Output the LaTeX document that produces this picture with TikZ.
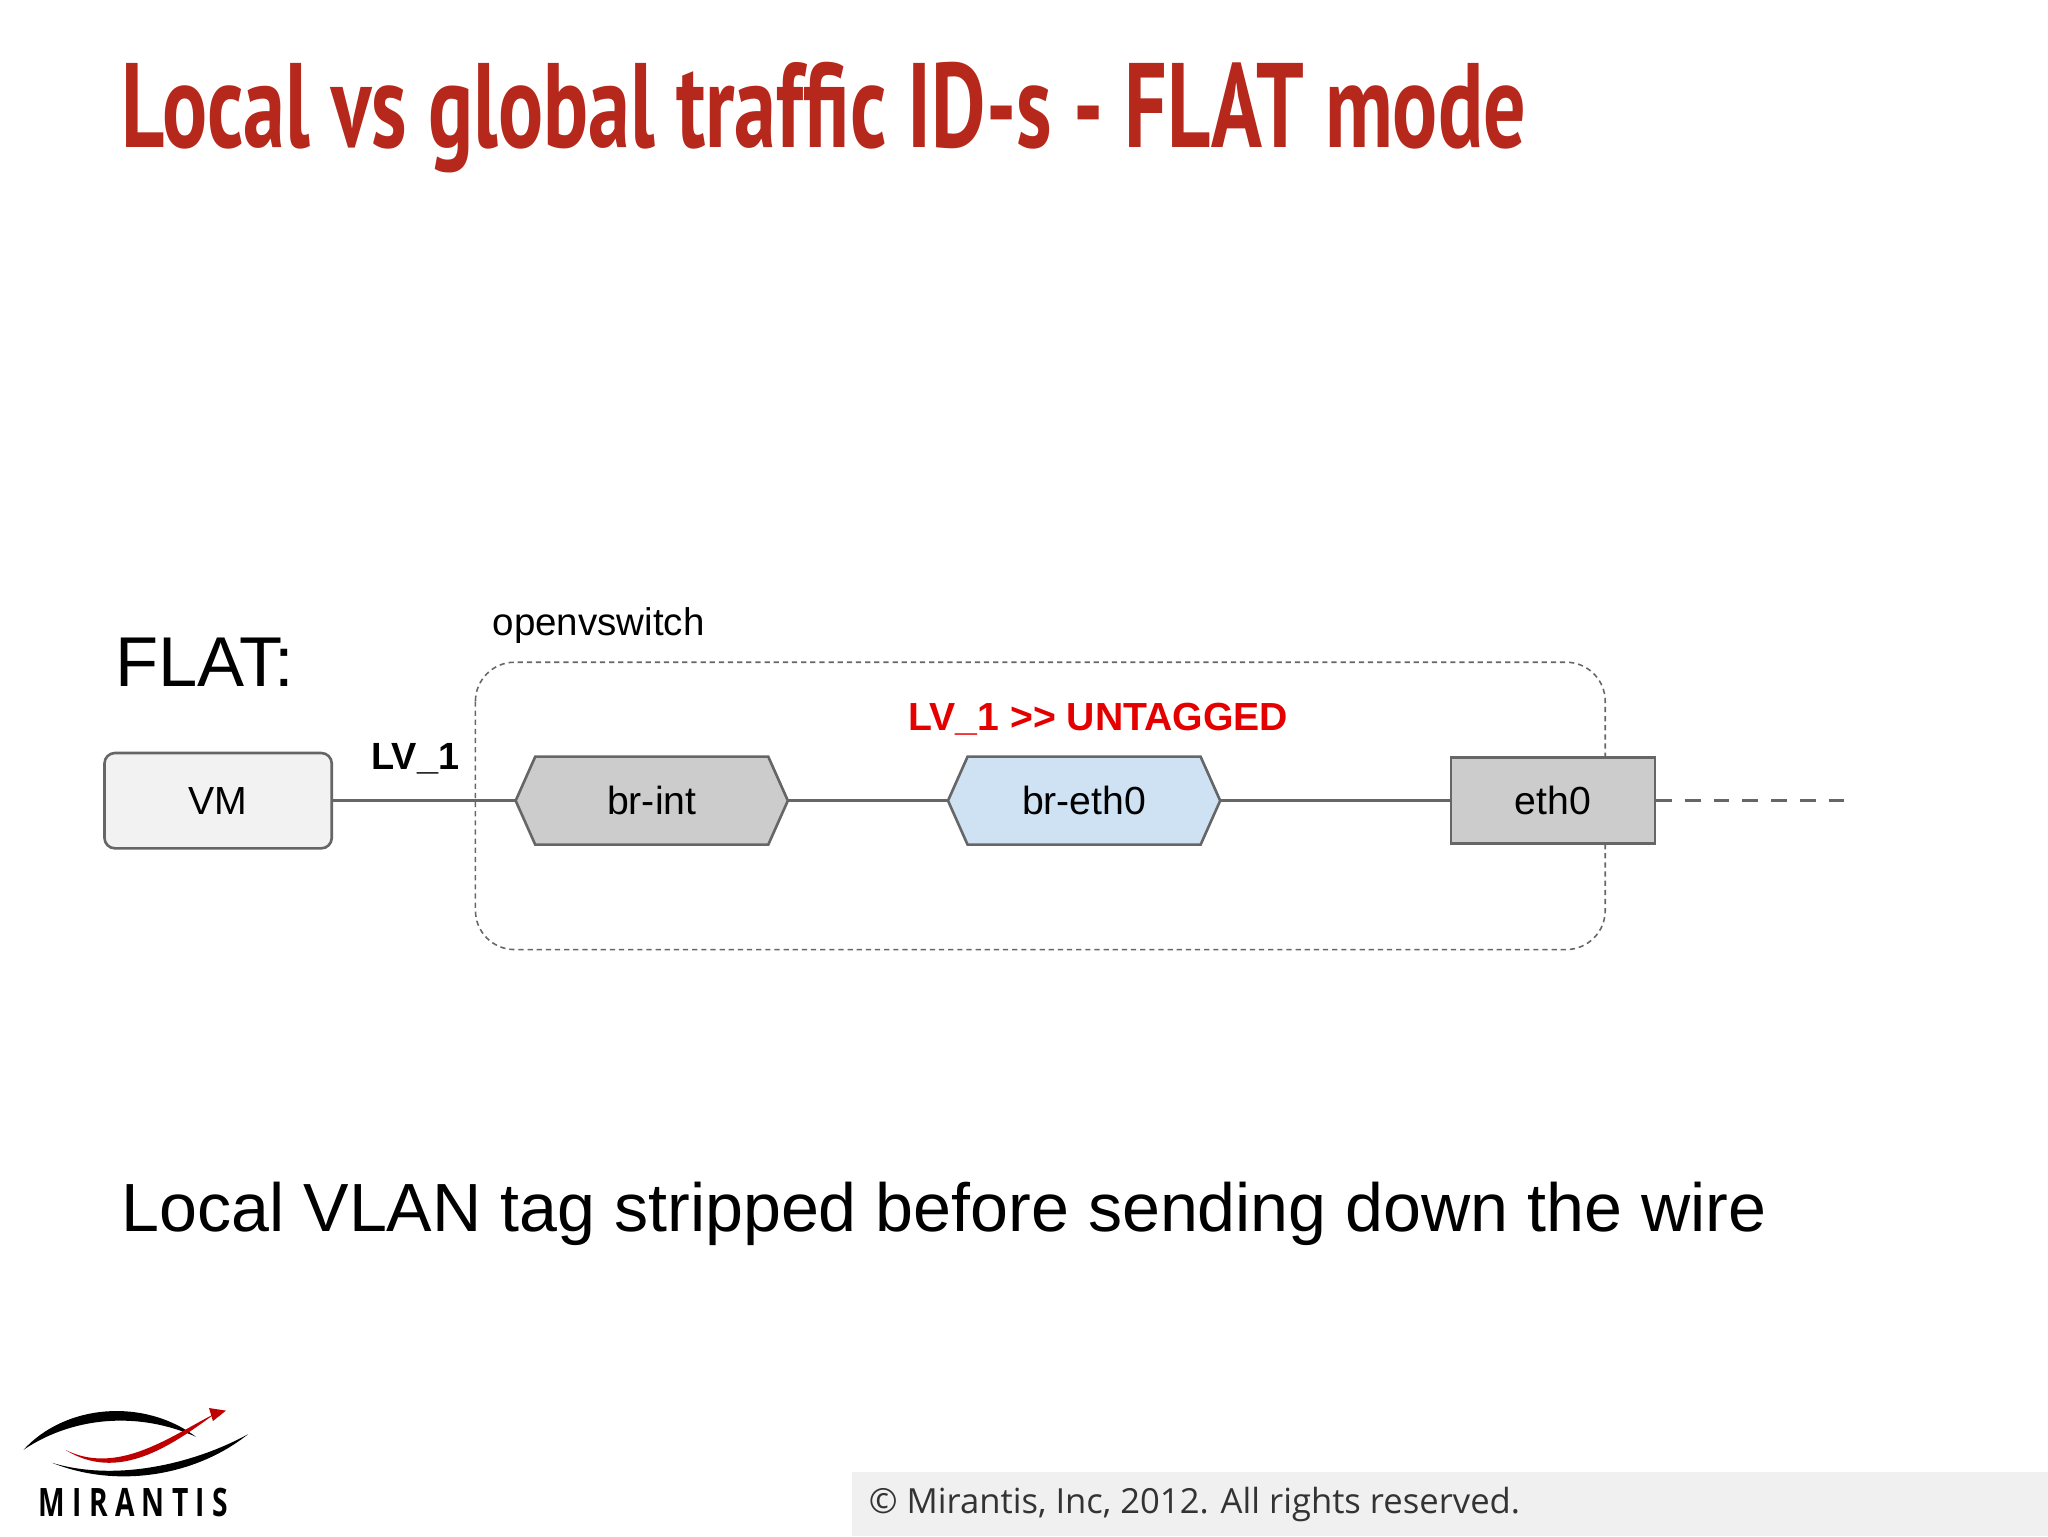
\documentclass[tikz,border=0pt]{standalone}
\usepackage{fontspec}
\setmainfont{Liberation Sans}
\newfontfamily\titlefont{PT Sans}
\newfontfamily\footfont{Open Sans}
\definecolor{titlered}{RGB}{183,40,28}
\begin{document}
\begin{tikzpicture}[x=1pt,y=-1pt,
  box/.style={draw=black!60,line width=2pt,minimum height=67pt,font=\fontsize{30}{32}\selectfont},
  lbl/.style={font=\fontsize{30}{32}\selectfont}]
\useasboundingbox (0,0) rectangle (1568,1176);
\fill[white] (0,0) rectangle (1568,1176);
\node[anchor=west,text=titlered,inner sep=0] (title) at (93,90)
  {\scalebox{0.7}[1]{\titlefont\bfseries\fontsize{92}{96}\selectfont Local vs global traffic ID-s - FLAT mode}};
\node[anchor=west,inner sep=0,font=\fontsize{54}{56}\selectfont] (flat) at (88,507) {FLAT:};
\node[anchor=west,inner sep=0,font=\fontsize{29.5}{31}\selectfont] (ovs) at (377,479) {openvswitch};
\draw[black!60,dash pattern=on 4pt off 3pt,line width=1.2pt,rounded corners=30] (364,507) rectangle (1229,727);
\node[box,fill=black!5,rounded corners=8,minimum width=174pt,minimum height=73pt] (vm) at (167,613) {VM};
\node[lbl,minimum width=208pt,minimum height=67pt] (brint) at (499,613) {br-int};
\draw[box,fill=black!20] (brint.west)--([xshift=15pt]brint.north west)--([xshift=-15pt]brint.north east)--(brint.east)--([xshift=-15pt]brint.south east)--([xshift=15pt]brint.south west)--cycle;
\node[lbl] at (brint) {br-int};
\node[lbl,minimum width=208pt,minimum height=67pt] (breth) at (830,613) {br-eth0};
\draw[box,fill={rgb,255:red,207;green,226;blue,243}] (breth.west)--([xshift=15pt]breth.north west)--([xshift=-15pt]breth.north east)--(breth.east)--([xshift=-15pt]breth.south east)--([xshift=15pt]breth.south west)--cycle;
\node[lbl] at (breth) {br-eth0};
\node[box,fill=black!20,minimum width=156pt,minimum height=66pt] (eth) at (1189,613) {eth0};
\coordinate (wire) at (1418,613);
\draw[black!60,line width=2pt] (vm.east)--(brint.west) (brint.east)--(breth.west) (breth.east)--(eth.west);
\draw[black!60,line width=2pt,dash pattern=on 12pt off 10pt] (eth.east)--(wire);
\node[font=\bfseries\fontsize{29}{30}\selectfont,inner sep=0] (lv) at (318,581) {LV\_1};
\node[font=\bfseries\fontsize{30}{32}\selectfont,text=red!90!black,inner sep=0] (red) at (841,551) {LV\_1 {>}{>} UNTAGGED};
\node[anchor=west,inner sep=0,font=\fontsize{52.2}{54}\selectfont] (bottom) at (93,929) {Local VLAN tag stripped before sending down the wire};
\fill[black!6] (652,1127) rectangle (1568,1176);
\node[anchor=west,inner sep=0,font=\footfont\fontsize{26.5}{28}\selectfont,text=black!80] (foot) at (665,1152) {© Mirantis, Inc, 2012. All rights reserved.};
% logo
\fill[black] (18,1110) .. controls (50,1075) and (110,1070) .. (150,1100) .. controls (105,1080) and (55,1085) .. (18,1110);
\fill[black] (40,1120) .. controls (90,1135) and (150,1120) .. (190,1098) .. controls (150,1130) and (90,1140) .. (40,1120);
\fill[red!75!black] (50,1110) .. controls (90,1130) and (130,1100) .. (165,1082) .. controls (130,1108) and (90,1135) .. (50,1110);
\fill[red!75!black] (160,1078)--(173,1080)--(163,1088)--cycle;
\node[inner sep=0,font=\footfont\bfseries\fontsize{30}{30}\selectfont] (logo) at (102,1150) {\scalebox{0.72}[1]{M I R A N T I S}};
\end{tikzpicture}
\end{document}
